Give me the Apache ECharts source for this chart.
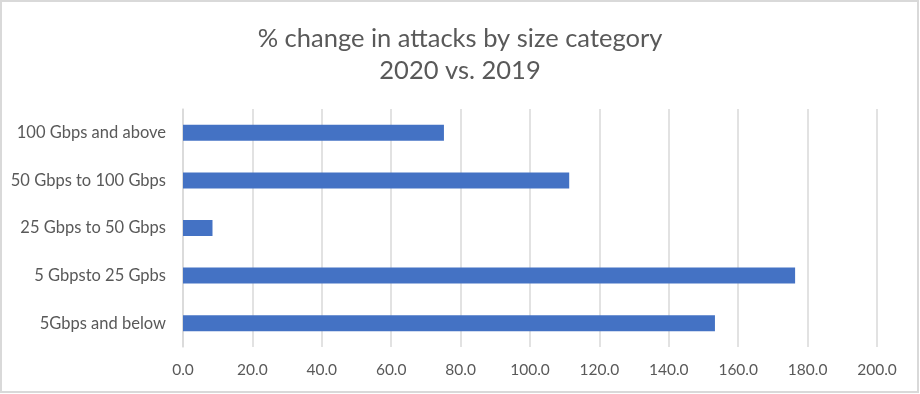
<!DOCTYPE html>
<html><head><meta charset="utf-8">
<script src="https://cdn.jsdelivr.net/npm/echarts@6/dist/echarts.min.js"></script>
<style>html,body{margin:0;padding:0;background:#fff}#c{width:920px;height:394px}</style>
</head><body><div id="c"></div>
<script>
const categories = ["100 Gbps and above", "50 Gbps to 100 Gbps", "25 Gbps to 50 Gbps", "5 Gbpsto 25 Gpbs", "5Gbps and below"];
const values = [75.2, 111.3, 8.5, 176.4, 153.3];
const titleLines = ["% change in attacks by size category", "2020 vs. 2019"];
const xMin = 0, xMax = 200, xStep = 20;

const chart = echarts.init(document.getElementById('c'), null, {renderer: 'canvas'});
chart.setOption({
  animation: false,
  backgroundColor: '#fff',
  title: {
    text: titleLines.join('\n'),
    left: 'center', top: 18,
    textStyle: {fontFamily: 'Lato', fontSize: 25.5, fontWeight: 'normal', color: '#595959', lineHeight: 32}
  },
  graphic: [{
    type: 'rect', shape: {x: 1, y: 1, width: 917, height: 391},
    style: {fill: 'none', stroke: '#d9d9d9', lineWidth: 2}, silent: true
  }],
  grid: {left: 183, right: 43, top: 109, bottom: 47, containLabel: false},
  xAxis: {
    type: 'value', min: xMin, max: xMax, interval: xStep,
    axisLine: {show: false}, axisTick: {show: false},
    splitLine: {lineStyle: {color: '#d9d9d9', width: 1.5}},
    axisLabel: {margin: 15, color: '#595959', fontFamily: 'Lato', fontSize: 15.5, formatter: v => v.toFixed(1)}
  },
  yAxis: {
    type: 'category', data: categories, inverse: true,
    axisLine: {lineStyle: {color: '#d9d9d9', width: 1.5}}, axisTick: {show: false},
    axisLabel: {margin: 17, color: '#595959', fontFamily: 'Lato', fontSize: 16.5}
  },
  series: [{
    type: 'bar', data: values, barWidth: 16,
    itemStyle: {color: '#4472C4'}
  }]
});
</script></body></html>
